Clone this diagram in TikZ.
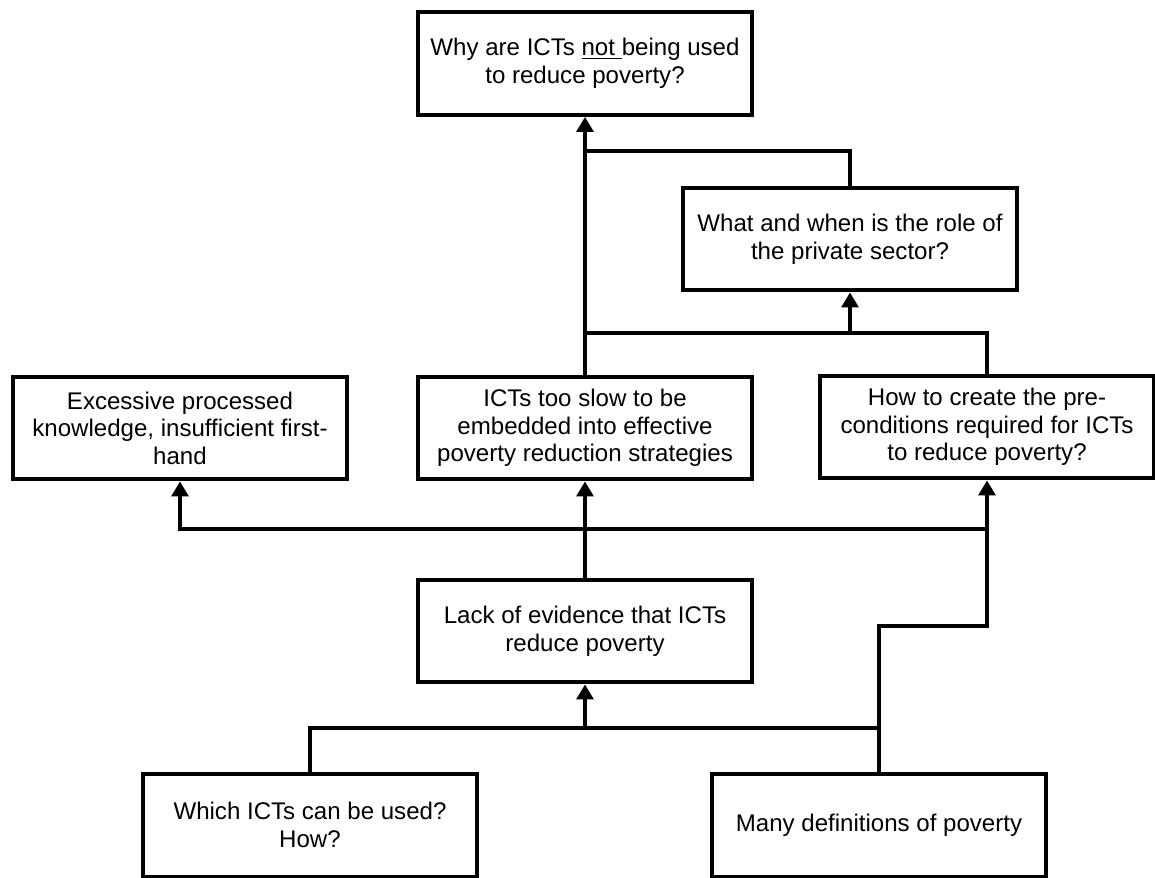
\documentclass[tikz,border=0pt]{standalone}
\usepackage{fontspec}
\setmainfont{Liberation Sans}
\usetikzlibrary{positioning}
\usetikzlibrary{arrows.meta}

\begin{document}
\begin{tikzpicture}[x=0.02cm,y=-0.02cm,
    qbox/.style={draw,line width=0.08cm,align=center,inner sep=0pt,
        minimum width=6.68cm,minimum height=2.06cm,
        font=\fontsize{13.7}{15.7}\selectfont},
    ln/.style={line width=0.066cm,line join=miter},
    arr/.style={ln,-{Triangle[length=0.3cm,width=0.34cm]}}]
  \useasboundingbox (0,0) rectangle (1155,878);
  % questions
  \node[qbox] (top) at (585,63.5) {Why are ICTs \underline{not\ }being used\\to reduce poverty?};
  \node[qbox] (private) at (850,239) {What and when is the role of\\the private sector?};
  \node[qbox] (excess) at (180,428) {Excessive processed\\knowledge, insufficient first-\\hand};
  \node[qbox] (slow) at (585,428) {ICTs too slow to be\\embedded into effective\\poverty reduction strategies};
  \node[qbox] (howto) at (987,427) {How to create the pre-\\conditions required for ICTs\\to reduce poverty?};
  \node[qbox] (lack) at (585,631) {Lack of evidence that ICTs\\reduce poverty};
  \node[qbox] (which) at (310,825) {Which ICTs can be used?\\How?};
  \node[qbox] (many) at (879,825) {Many definitions of poverty};
  % junctions
  \coordinate (j1) at (585,151);
  \coordinate (j2) at (585,333);
  \coordinate (j3) at (585,529);
  \coordinate (j4) at (585,728);
  \coordinate (kink) at (879,626);
  % connectors
  \draw[arr] (slow.north) -- (top.south);
  \draw[ln] (private.north) |- (j1);
  \draw[ln] (howto.north) |- (j2);
  \draw[arr] (private.south |- j2) -- (private.south);
  \draw[arr] (lack.north) -- (slow.south);
  \draw[arr] (howto.south |- j3) -| (excess.south);
  \draw[ln] (which.north) |- (many.north |- j4);
  \draw[arr] (j4) -- (lack.south);
  \draw[arr] (many.north) -- (kink) -| (howto.south);
\end{tikzpicture}
\end{document}
